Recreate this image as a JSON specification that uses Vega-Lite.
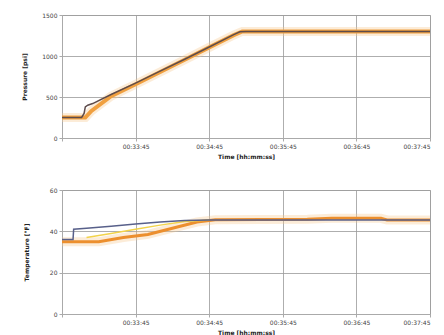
{
  "$schema": "https://vega.github.io/schema/vega-lite/v6.json",
  "padding": {"left": 21, "top": 11, "right": 5, "bottom": 5},
  "bounds": "flush",
  "spacing": 52,
  "background": "white",
  "datasets": {
    "pressure": [
      {"series": "Measured", "t": 0, "value": 250}, {"series": "Measured", "t": 19, "value": 250},
      {"series": "Measured", "t": 24, "value": 330}, {"series": "Measured", "t": 40, "value": 510},
      {"series": "Measured", "t": 60, "value": 655}, {"series": "Measured", "t": 80, "value": 805},
      {"series": "Measured", "t": 100, "value": 955}, {"series": "Measured", "t": 120, "value": 1105},
      {"series": "Measured", "t": 140, "value": 1255}, {"series": "Measured", "t": 147, "value": 1300},
      {"series": "Measured", "t": 300, "value": 1300},
      {"series": "Model", "t": 0, "value": 250}, {"series": "Model", "t": 16, "value": 250},
      {"series": "Model", "t": 18, "value": 300}, {"series": "Model", "t": 19, "value": 380},
      {"series": "Model", "t": 21, "value": 400}, {"series": "Model", "t": 25, "value": 420},
      {"series": "Model", "t": 40, "value": 530}, {"series": "Model", "t": 60, "value": 670},
      {"series": "Model", "t": 80, "value": 815}, {"series": "Model", "t": 100, "value": 960},
      {"series": "Model", "t": 120, "value": 1110}, {"series": "Model", "t": 140, "value": 1260},
      {"series": "Model", "t": 145, "value": 1295}, {"series": "Model", "t": 150, "value": 1300},
      {"series": "Model", "t": 300, "value": 1300}
    ],
    "temperature": [
      {"series": "A", "t": 20, "value": 37}, {"series": "A", "t": 40, "value": 39},
      {"series": "A", "t": 60, "value": 41}, {"series": "A", "t": 80, "value": 43},
      {"series": "A", "t": 100, "value": 44.8}, {"series": "A", "t": 120, "value": 45.5},
      {"series": "B", "t": 0, "value": 35}, {"series": "B", "t": 30, "value": 35},
      {"series": "B", "t": 50, "value": 37}, {"series": "B", "t": 70, "value": 38.5},
      {"series": "B", "t": 90, "value": 41.5}, {"series": "B", "t": 110, "value": 44.5},
      {"series": "B", "t": 125, "value": 45.6},
      {"series": "B", "t": 200, "value": 45.8}, {"series": "B", "t": 220, "value": 46.3},
      {"series": "B", "t": 260, "value": 46.3}, {"series": "B", "t": 265, "value": 45.5},
      {"series": "B", "t": 300, "value": 45.5},
      {"series": "C", "t": 0, "value": 36}, {"series": "C", "t": 9, "value": 36},
      {"series": "C", "t": 9.5, "value": 41}, {"series": "C", "t": 20, "value": 41.5},
      {"series": "C", "t": 40, "value": 42.5}, {"series": "C", "t": 60, "value": 43.5},
      {"series": "C", "t": 80, "value": 44.5}, {"series": "C", "t": 100, "value": 45.3},
      {"series": "C", "t": 120, "value": 45.5}, {"series": "C", "t": 300, "value": 45.5}
    ]
  },
  "config": {
    "view": {"stroke": "#bbbbbb"},
    "axis": {
      "labelFont": "DejaVu Sans", "labelFontSize": 6, "labelColor": "#444",
      "titleFont": "DejaVu Sans", "titleFontSize": 6, "titleFontWeight": "bold", "titleColor": "#222",
      "gridColor": "#999999", "gridOpacity": 1, "gridWidth": 0.8,
      "domainColor": "#aaaaaa", "tickColor": "#aaaaaa", "tickSize": 3
    }
  },
  "vconcat": [
    {
      "width": 368, "height": 123,
      "data": {"name": "pressure"},
      "encoding": {
        "x": {"field": "t", "type": "quantitative", "scale": {"domain": [0, 300], "nice": false},
          "axis": {"values": [0, 60, 120, 180, 240, 300], "title": "Time [hh:mm:ss]",
            "labelExpr": "datum.value == 0 ? '' : '00:3' + (2 + datum.value / 60) + ':45'"}},
        "y": {"field": "value", "type": "quantitative", "scale": {"domain": [0, 1500], "nice": false},
          "axis": {"values": [0, 500, 1000, 1500], "title": "Pressure [psi]", "titlePadding": 14, "format": "d"}}
      },
      "layer": [
        {"transform": [{"filter": "datum.series == 'Measured'"}],
         "mark": {"type": "line", "color": "#f7c98f", "strokeWidth": 9, "opacity": 0.35}},
        {"transform": [{"filter": "datum.series == 'Measured'"}],
         "mark": {"type": "line", "color": "#f0a040", "strokeWidth": 4}},
        {"transform": [{"filter": "datum.series == 'Model'"}],
         "mark": {"type": "line", "color": "#5e4c4c", "strokeWidth": 1.5}}
      ]
    },
    {
      "width": 368, "height": 124,
      "data": {"name": "temperature"},
      "encoding": {
        "x": {"field": "t", "type": "quantitative", "scale": {"domain": [0, 300], "nice": false},
          "axis": {"values": [0, 60, 120, 180, 240, 300], "title": "Time [hh:mm:ss]",
            "labelExpr": "datum.value == 0 ? '' : '00:3' + (2 + datum.value / 60) + ':45'"}},
        "y": {"field": "value", "type": "quantitative", "scale": {"domain": [0, 60], "nice": false},
          "axis": {"values": [0, 20, 40, 60], "title": "Temperature [°F]", "titlePadding": 20}}
      },
      "layer": [
        {"transform": [{"filter": "datum.series == 'B'"}],
         "mark": {"type": "line", "color": "#f7c98f", "strokeWidth": 9, "opacity": 0.35}},
        {"transform": [{"filter": "datum.series == 'B'"}],
         "mark": {"type": "line", "color": "#ec8f2e", "strokeWidth": 3}},
        {"transform": [{"filter": "datum.series == 'A'"}],
         "mark": {"type": "line", "color": "#f2d34a", "strokeWidth": 1.5}},
        {"transform": [{"filter": "datum.series == 'C'"}],
         "mark": {"type": "line", "color": "#58608a", "strokeWidth": 1.5}}
      ]
    }
  ]
}
